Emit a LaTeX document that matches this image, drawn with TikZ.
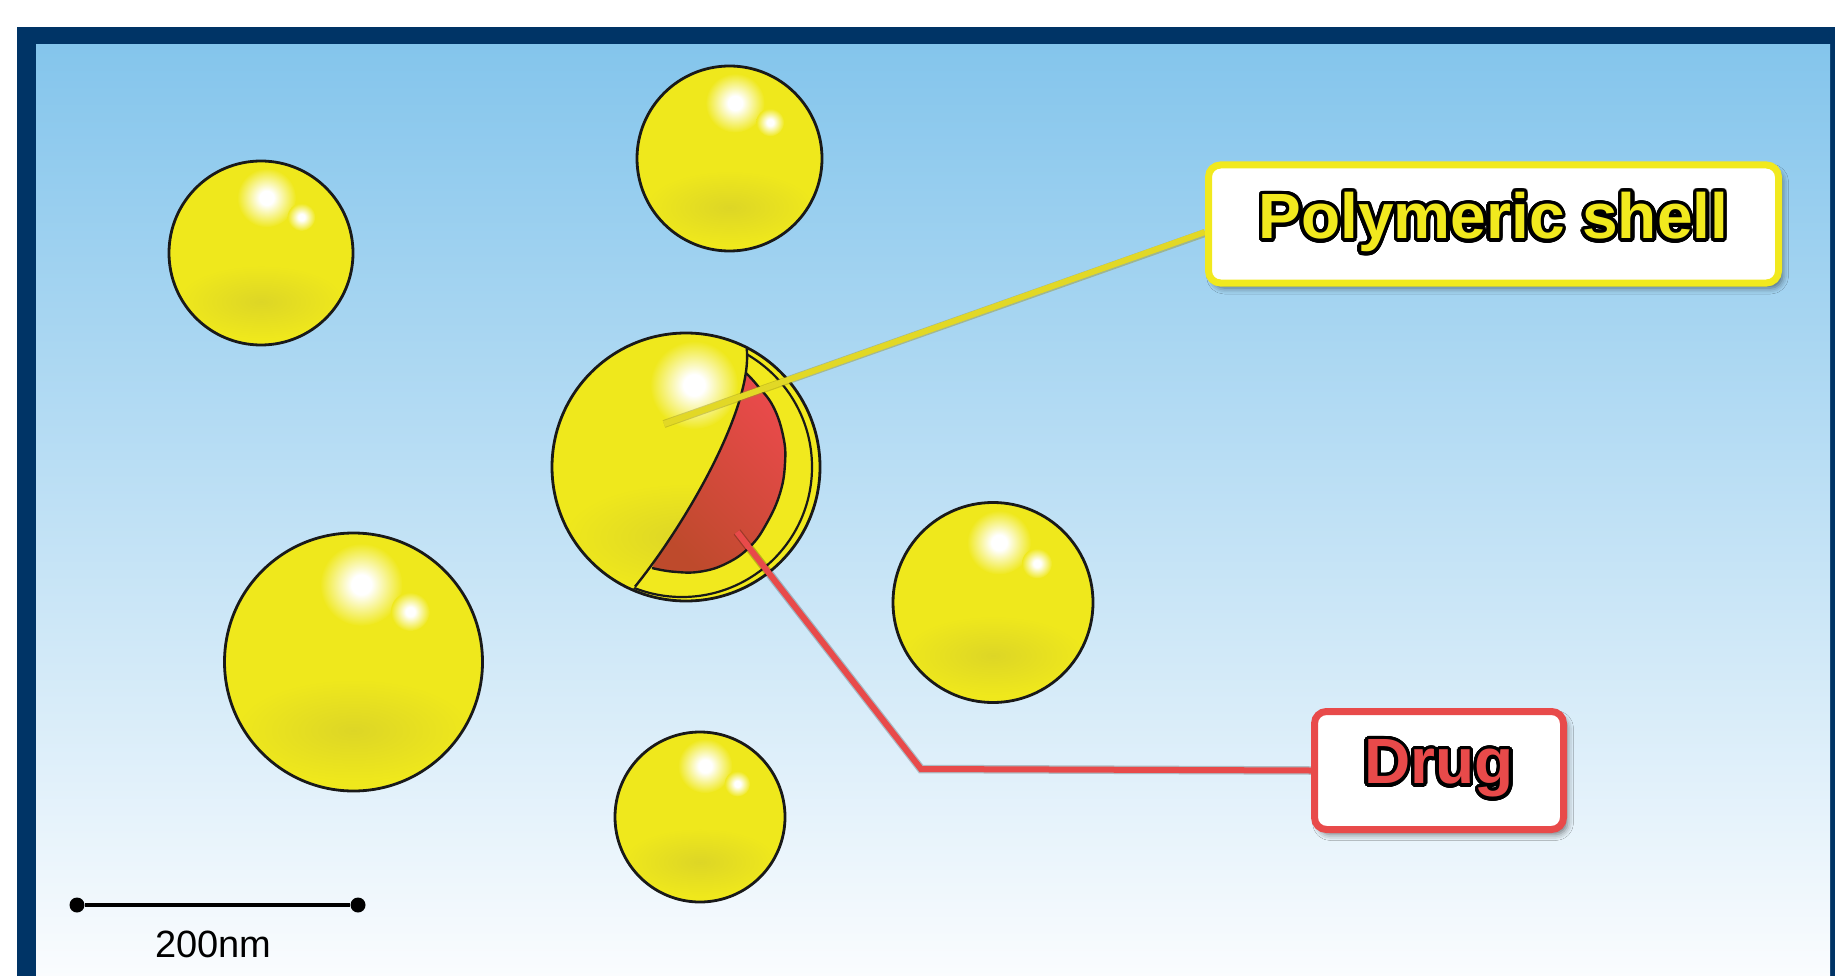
\documentclass[tikz,border=0pt]{standalone}
\usepackage{fontspec}
\setmainfont{Liberation Sans}
\usepackage[copies]{contour}
\contourlength{3.5pt}
\contournumber{32}
\usetikzlibrary{shadows.blur}

\definecolor{navy}{HTML}{003466}
\definecolor{skytop}{HTML}{84C5EC}
\definecolor{skybottom}{HTML}{FAFCFE}
\definecolor{ballyellow}{HTML}{EFE81C}
\definecolor{ballshade}{HTML}{DDD626}
\definecolor{shellyellow}{HTML}{F1E91E}
\definecolor{drugred}{HTML}{E84A4A}
\definecolor{drugdark}{HTML}{BE4A2C}
\definecolor{linkyellow}{HTML}{E2D826}
\definecolor{linkedge}{HTML}{9C9420}

\pgfdeclareradialshading{hilite}{\pgfpoint{0bp}{0bp}}{color(0bp)=(white); color(6bp)=(white); color(25bp)=(ballyellow); color(50bp)=(ballyellow)}
\pgfdeclareradialshading{lowshade}{\pgfpoint{0bp}{0bp}}{color(0bp)=(ballshade); color(25bp)=(ballyellow); color(50bp)=(ballyellow)}

\pgfdeclarelayer{front}
\pgfsetlayers{main,front}

\tikzset{
  rim/.style={draw=black!90, line width=2.8pt},
  labelbox/.style={rounded corners=12pt, fill=white, line width=7pt, inner sep=0pt,
    blur shadow={shadow xshift=4pt, shadow yshift=-5pt, shadow blur radius=6pt, shadow opacity=50},
    font=\fontsize{64}{70}\selectfont\bfseries},
  sbdot/.style={circle, fill=black, inner sep=0pt, minimum size=15pt},
  shelllink/.style={draw=linkyellow, line width=6pt},
  druglink/.style={draw=drugred, line width=6pt, line join=miter},
}

% a glossy yellow nanoparticle: centre x, centre y, radius
\newcommand{\yellowsphere}[3]{%
  \pgfmathsetmacro{\sphHx}{#1+0.06*#3}%
  \pgfmathsetmacro{\sphHy}{#2-0.60*#3}%
  \pgfmathsetmacro{\sphHr}{0.32*#3}%
  \pgfmathsetmacro{\sphGx}{#1+0.44*#3}%
  \pgfmathsetmacro{\sphGy}{#2-0.39*#3}%
  \pgfmathsetmacro{\sphGr}{0.15*#3}%
  \pgfmathsetmacro{\sphLy}{#2+0.53*#3}%
  \pgfmathsetmacro{\sphLrx}{0.92*#3}%
  \pgfmathsetmacro{\sphLry}{0.40*#3}%
  \begin{scope}
    \clip (#1,#2) circle[radius=#3];
    \fill[ballyellow] (#1,#2) circle[radius=#3];
    \shade[shading=lowshade] (#1,\sphLy) ellipse[x radius=\sphLrx, y radius=\sphLry];
    \shade[shading=hilite] (\sphHx,\sphHy) circle[radius=\sphHr];
    \shade[shading=hilite] (\sphGx,\sphGy) circle[radius=\sphGr];
  \end{scope}
  \draw[rim] (#1,#2) circle[radius=#3];
}

\begin{document}
\begin{tikzpicture}[x=1pt, y=-1pt, line join=round]
\useasboundingbox (0,0) rectangle (1835,976);

% frame and sky gradient
\fill[white] (0,0) rectangle (1835,976);
\fill[navy] (17,27) rectangle (1835,976);
\shade[top color=skytop, bottom color=skybottom] (36,45) rectangle (1830,976);

% plain nanoparticles
\yellowsphere{261}{253}{92}
\yellowsphere{729.5}{158.5}{92.5}
\yellowsphere{353.5}{662}{129}
\yellowsphere{993}{602.5}{100}
\yellowsphere{700}{817}{85}

% cut-open nanoparticle showing the drug core
\begin{scope}[shift={(686,467)}]
  \begin{scope}
    \clip (0,0) circle[radius=134];
    \fill[ballyellow] (0,0) circle[radius=134];
    \shade[shading=lowshade] (0,70) ellipse[x radius=124, y radius=54];
    \shade[shading=hilite] (8,-82) circle[radius=44];
    \fill[shellyellow] (75,-175) -- (60.7,-118.7) .. controls (67,-58) and (-2,59) .. (-51,119.7)
      -- (-95,170) -- (200,170) -- (200,-175) -- cycle;
  \end{scope}
  \begin{scope}
    \clip (75,-175) -- (60.7,-118.7) .. controls (67,-58) and (-2,59) .. (-51,119.7)
      -- (-95,170) -- (200,170) -- (200,-175) -- cycle;
    \shade[top color=drugred, middle color=drugred, bottom color=drugdark, shading angle=-45]
      plot[smooth, tension=0.7] coordinates {(60,-94) (71,-82) (87.3,-60.3) (97.3,-30.3) (99,-3.7)
        (94,26.3) (80.7,56.3) (64,79.7) (40.7,96.3) (14,104.7) (-12.7,104.7) (-34,101)} -- cycle;
    \draw[rim, line width=2.2pt] (-4,0) circle[radius=130];
  \end{scope}
  \draw[rim, line width=2.4pt] plot[smooth, tension=0.7] coordinates {(60,-94) (71,-82) (87.3,-60.3)
    (97.3,-30.3) (99,-3.7) (94,26.3) (80.7,56.3) (64,79.7) (40.7,96.3) (14,104.7) (-12.7,104.7) (-34,101)};
  \draw[rim, line width=2.4pt] (60.7,-118.7) .. controls (67,-58) and (-2,59) .. (-51,119.7);
  \draw[rim] (0,0) circle[radius=134];
\end{scope}

% labels
\begin{pgfonlayer}{front}
  \node[labelbox, draw=shellyellow, text=shellyellow, minimum width=570pt, minimum height=118pt]
    (shellbox) at (1493.5,224) {\contour{black}{Polymeric shell}};
  \node[labelbox, draw=drugred, text=drugred, minimum width=249pt, minimum height=118pt]
    (drugbox) at (1439,770.5) {\contour{black}{Drug}};
\end{pgfonlayer}

% leader lines
\coordinate (shellpt) at (664,424);
\coordinate (drugpt) at (737,532);
\coordinate (drugbend) at (921,769);
\draw[draw=linkedge, line width=8pt, opacity=0.45] (shellpt) -- ([yshift=-9pt]shellbox.west);
\draw[shelllink] (shellpt) -- ([yshift=-8pt]shellbox.west);
\draw[druglink, draw=black, opacity=0.22, line width=8.5pt] (drugpt) -- (drugbend) -- (drugbox.west);
\draw[druglink] (drugpt) -- (drugbend) -- (drugbox.west);

% scale bar
\node[sbdot] (sbleft) at (77,905) {};
\node[sbdot] (sbright) at (358,905) {};
\draw[line width=3.3pt] (sbleft) -- (sbright);
\node[anchor=base, font=\fontsize{38}{44}\selectfont, inner sep=0pt] (sblabel) at (213.5,957) {200nm};
\end{tikzpicture}
\end{document}
